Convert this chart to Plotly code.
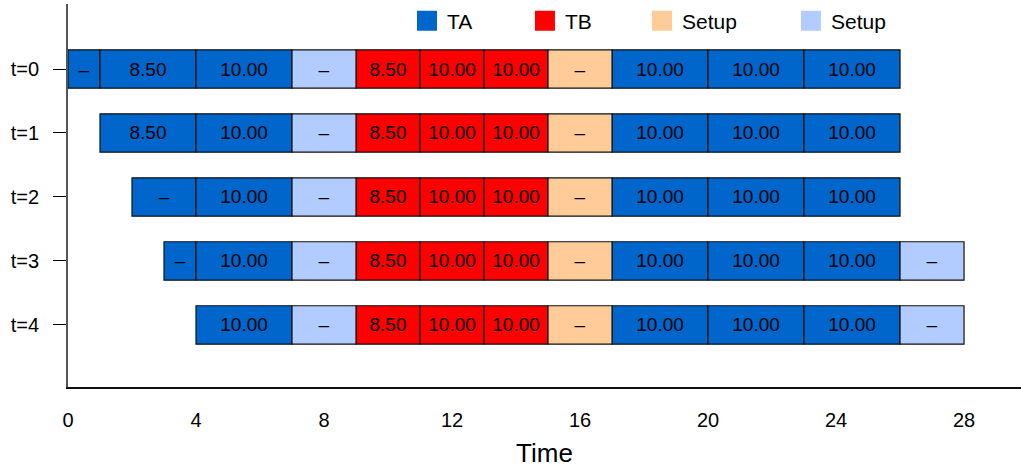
import plotly.graph_objects as go

row_names = ["t=0", "t=1", "t=2", "t=3", "t=4"]
row_starts = [0, 1, 2, 3, 4]

t0_types = ["TA", "TA", "TA", "S2", "TB", "TB", "TB", "S1", "TA", "TA", "TA"]
t0_durs = [1, 3, 3, 2, 2, 2, 2, 2, 3, 3, 3]
t0_labels = ["–", "8.50", "10.00", "–", "8.50", "10.00", "10.00", "–", "10.00", "10.00", "10.00"]

t1_types = ["TA", "TA", "S2", "TB", "TB", "TB", "S1", "TA", "TA", "TA"]
t1_durs = [3, 3, 2, 2, 2, 2, 2, 3, 3, 3]
t1_labels = ["8.50", "10.00", "–", "8.50", "10.00", "10.00", "–", "10.00", "10.00", "10.00"]

t2_types = ["TA", "TA", "S2", "TB", "TB", "TB", "S1", "TA", "TA", "TA"]
t2_durs = [2, 3, 2, 2, 2, 2, 2, 3, 3, 3]
t2_labels = ["–", "10.00", "–", "8.50", "10.00", "10.00", "–", "10.00", "10.00", "10.00"]

t3_types = ["TA", "TA", "S2", "TB", "TB", "TB", "S1", "TA", "TA", "TA", "S2"]
t3_durs = [1, 3, 2, 2, 2, 2, 2, 3, 3, 3, 2]
t3_labels = ["–", "10.00", "–", "8.50", "10.00", "10.00", "–", "10.00", "10.00", "10.00", "–"]

t4_types = ["TA", "S2", "TB", "TB", "TB", "S1", "TA", "TA", "TA", "S2"]
t4_durs = [3, 2, 2, 2, 2, 2, 3, 3, 3, 2]
t4_labels = ["10.00", "–", "8.50", "10.00", "10.00", "–", "10.00", "10.00", "10.00", "–"]

legend_keys = ["TA", "TB", "S1", "S2"]
legend_names = ["TA", "TB", "Setup", "Setup"]
legend_colors = ["#0066CC", "#FF0000", "#FFCC99", "#B3CCFF"]
x_ticks = [0, 4, 8, 12, 16, 20, 24, 28]

rows = [
    (t0_types, t0_durs, t0_labels),
    (t1_types, t1_durs, t1_labels),
    (t2_types, t2_durs, t2_labels),
    (t3_types, t3_durs, t3_labels),
    (t4_types, t4_durs, t4_labels),
]

segs = {k: {"y": [], "x": [], "base": [], "text": []} for k in legend_keys}
for ri, (types, durs, labels) in enumerate(rows):
    pos = row_starts[ri]
    for ty, d, lb in zip(types, durs, labels):
        s = segs[ty]
        s["y"].append(ri)
        s["x"].append(d)
        s["base"].append(pos)
        s["text"].append(lb)
        pos += d

FONT = "Liberation Sans, Arial, Helvetica, sans-serif"
fig = go.Figure()
for k, col in zip(legend_keys, legend_colors):
    s = segs[k]
    fig.add_trace(go.Bar(
        orientation="h", y=s["y"], x=s["x"], base=s["base"], text=s["text"],
        width=0.6, marker=dict(color=col, line=dict(color="#111111", width=1.2)),
        textposition="inside", insidetextanchor="middle", textangle=0,
        constraintext="none",
        textfont=dict(color="black", size=19, family=FONT),
        showlegend=False, hoverinfo="skip",
    ))

legend_ids = ["legend", "legend2", "legend3", "legend4"]
for lid, name, col in zip(legend_ids, legend_names, legend_colors):
    fig.add_trace(go.Scatter(
        x=[None], y=[None], mode="markers", name=name, legend=lid,
        marker=dict(symbol="square", size=16, color=col, line=dict(color=col, width=4)),
    ))

legend_x = [0.3557, 0.4795, 0.6023, 0.7586]
leg_common = dict(orientation="h", xanchor="left", y=0.9556, yanchor="middle",
                  font=dict(size=21, family=FONT, color="black"),
                  bgcolor="rgba(0,0,0,0)", borderwidth=0)

fig.update_layout(
    width=1021, height=471,
    margin=dict(l=68, r=0, t=4, b=84, autoexpand=False),
    plot_bgcolor="white", paper_bgcolor="white",
    barmode="overlay",
    uniformtext=dict(minsize=19, mode="show"),
    font=dict(family=FONT, color="black", size=20),
    legend=dict(x=legend_x[0], **leg_common),
    legend2=dict(x=legend_x[1], **leg_common),
    legend3=dict(x=legend_x[2], **leg_common),
    legend4=dict(x=legend_x[3], **leg_common),
    xaxis=dict(range=[0, 29.78], tickvals=x_ticks, automargin=False,
               showgrid=False, zeroline=False, showline=True, linecolor="#111111",
               linewidth=2, ticks="outside", ticklen=14, tickcolor="rgba(0,0,0,0)",
               tickfont=dict(size=20),
               title=dict(text="Time", font=dict(size=26), standoff=14)),
    yaxis=dict(range=[4.97, -1.016], tickvals=[0, 1, 2, 3, 4], ticktext=row_names,
               automargin=False,
               showgrid=False, zeroline=False, showline=True, linecolor="#555555",
               linewidth=2, ticks="outside", ticklen=13, tickcolor="black",
               tickwidth=1.3, ticklabelstandoff=10,
               tickfont=dict(size=20)),
)

fig.write_html("out.html", config={"displayModeBar": False},
               post_script="document.body.style.margin='0';document.body.style.overflow='hidden';")
